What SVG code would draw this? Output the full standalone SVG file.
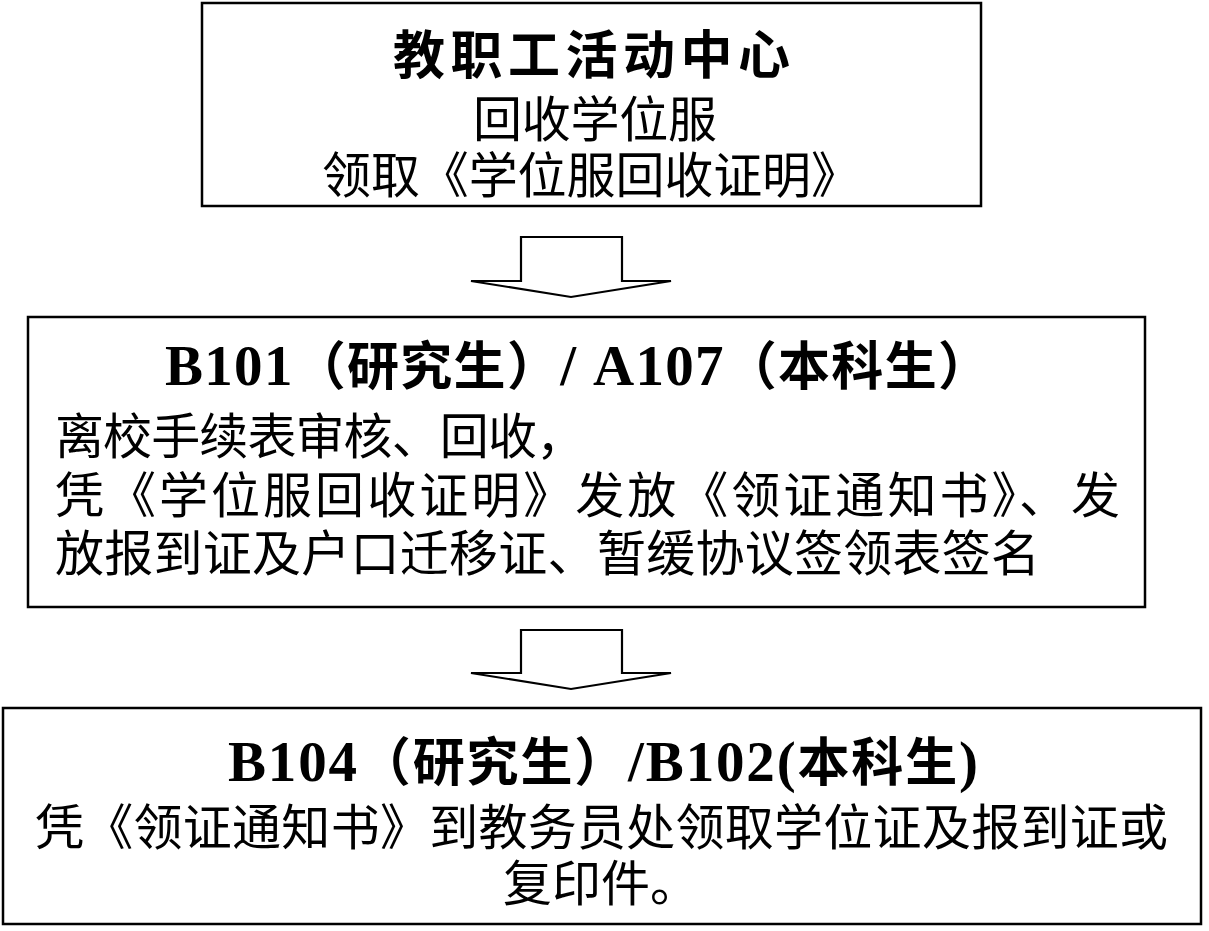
<svg xmlns="http://www.w3.org/2000/svg" width="1209" height="931" viewBox="0 0 1209 931">
<style>
.box{fill:#fff;stroke:#000;stroke-width:2.5}
.arr{fill:#fff;stroke:#000;stroke-width:2.2;stroke-linejoin:miter}
text{font-family:"Liberation Serif","Noto Sans CJK SC",serif;fill:#000}
.t{font-weight:bold;font-size:52px}
.l{font-size:57px}
.b{font-size:49px}
</style>
<rect width="1209" height="931" fill="#fff"/>
<g id="node1">
<rect class="box" x="202" y="3" width="779" height="203"/>
<text class="t" x="393" y="74" textLength="397" lengthAdjust="spacing">教职工活动中心</text>
<text class="b" x="473" y="137" textLength="244" lengthAdjust="spacing">回收学位服</text>
<text class="b" x="322" y="193" textLength="538" lengthAdjust="spacing">领取《学位服回收证明》</text>
</g>
<g id="node2">
<rect class="box" x="28" y="317" width="1117" height="290"/>
<text class="t" x="165" y="385" textLength="825" lengthAdjust="spacing"><tspan class="l">B101</tspan>（研究生）<tspan class="l">/ A107</tspan>（本科生）</text>
<text class="b" x="55" y="454" textLength="530" lengthAdjust="spacing">离校手续表审核、回收，</text>
<text class="b" x="55" y="513" textLength="1065" lengthAdjust="spacing">凭《学位服回收证明》发放《领证通知书》、发</text>
<text class="b" x="55" y="571" textLength="985" lengthAdjust="spacing">放报到证及户口迁移证、暂缓协议签领表签名</text>
</g>
<g id="node3">
<rect class="box" x="3" y="708" width="1198" height="216"/>
<text class="t" x="228" y="781" textLength="750" lengthAdjust="spacing"><tspan class="l">B104</tspan>（研究生）<tspan class="l">/B102(</tspan>本科生<tspan class="l">)</tspan></text>
<text class="b" x="35" y="845" textLength="1133" lengthAdjust="spacing">凭《领证通知书》到教务员处领取学位证及报到证或</text>
<text class="b" x="503" y="901" textLength="196" lengthAdjust="spacing">复印件。</text>
</g>
<g id="connectors">
<polygon class="arr" points="521,237 622,237 622,281 671,281 571,297 471,281 521,281"/>
<polygon class="arr" points="521,630 622,630 622,673 671,673 571,689 471,673 521,673"/>
</g>
</svg>
